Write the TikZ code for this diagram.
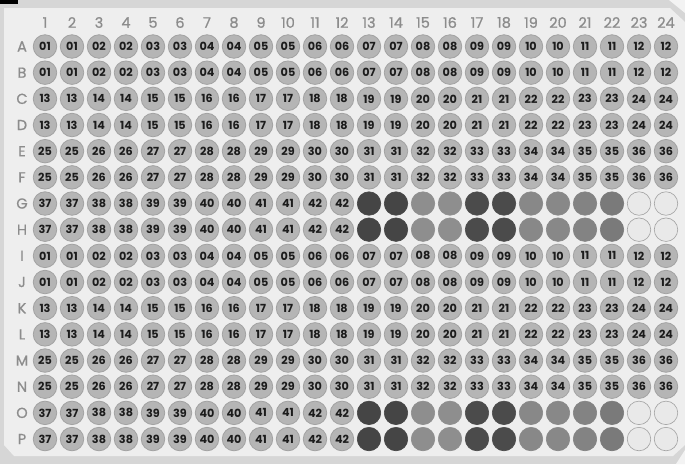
\documentclass[tikz,border=0pt]{standalone}
\usepackage{fontspec}
\setmainfont{Poppins}
\newfontfamily\labfont[FakeBold=0.8]{Poppins}
\definecolor{outerc}{HTML}{D6D6D6}
\definecolor{platec}{HTML}{EEEEEE}
\definecolor{hlc}{HTML}{F3F3F3}
\definecolor{labc}{HTML}{8C8C8C}
\definecolor{wellfill}{HTML}{B5B5B5}
\definecolor{wellline}{HTML}{A2A2A2}
\definecolor{welltext}{HTML}{1C1C1C}
\definecolor{wc13}{HTML}{454545}
\definecolor{wc14}{HTML}{454545}
\definecolor{wc15}{HTML}{8E8E8E}
\definecolor{wc16}{HTML}{8E8E8E}
\definecolor{wc17}{HTML}{4B4B4B}
\definecolor{wc18}{HTML}{4B4B4B}
\definecolor{wc19}{HTML}{888888}
\definecolor{wc20}{HTML}{888888}
\definecolor{wc21}{HTML}{838383}
\definecolor{wc22}{HTML}{7A7A7A}
\definecolor{wc23}{HTML}{E9E9E9}
\definecolor{wc24}{HTML}{E9E9E9}
\tikzset{
  collab/.style={text=labc, font=\fontsize{14.5}{14.5}\selectfont\labfont, inner sep=0pt},
  rowlab/.style={text=labc, font=\fontsize{14.5}{14.5}\selectfont\labfont, inner sep=0pt},
  well/.style={circle, minimum size=23.5pt, inner sep=0pt, line width=0.8pt,
    draw=wellline, fill=wellfill, text=welltext,
    font=\fontsize{11.2}{11.2}\selectfont\bfseries},
  cwell/.style={circle, minimum size=23.5pt, inner sep=0pt, line width=0.6pt}
}
\begin{document}
\begin{tikzpicture}[x=1pt,y=-1pt]
\useasboundingbox (0,0) rectangle (685,464);
\fill[outerc] (0,0) rectangle (685,464);
\fill[platec] (4,8) -- (670,8) -- (685,22) -- (685,445) -- (673,456) -- (14,456) -- (4,445) -- cycle;
\fill[hlc] (669,0) -- (685,0) -- (685,13) -- cycle;
\fill[hlc] (685,450) -- (685,464) -- (676,464) -- cycle;
\fill[black] (0,0) rectangle (18,4);
\foreach \c in {1,...,24}
  \node[collab] (cl\c) at ({45+27*(\c-1)},22.5) {\c};
\foreach \l [count=\r] in {A,B,C,D,E,F,G,H,I,J,K,L,M,N,O,P}
  \node[rowlab] (rl\r) at (22,{46.5+26.17*(\r-1)}) {\l};
\foreach \r in {1,...,16}{
  \foreach \c in {1,...,24}{
    \pgfmathtruncatemacro\g{div(mod(\r-1,8),2)}
    \pgfmathtruncatemacro\n{\g*12+div(\c+1,2)}
    \pgfmathtruncatemacro\colored{(\g==3)&&(\c>12) ? 1 : 0}
    \ifnum\colored=1
      \ifnum\c>22
        \node[cwell, fill=wc\c, draw=wellline] (w-\r-\c) at ({45+27*(\c-1)},{46.5+26.17*(\r-1)}) {};
      \else
        \node[cwell, fill=wc\c, draw=wc\c] (w-\r-\c) at ({45+27*(\c-1)},{46.5+26.17*(\r-1)}) {};
      \fi
    \else
      \node[well] (w-\r-\c) at ({45+27*(\c-1)},{46.5+26.17*(\r-1)}) {\ifnum\n<10 0\fi\n};
    \fi
  }
}
\end{tikzpicture}
\end{document}
